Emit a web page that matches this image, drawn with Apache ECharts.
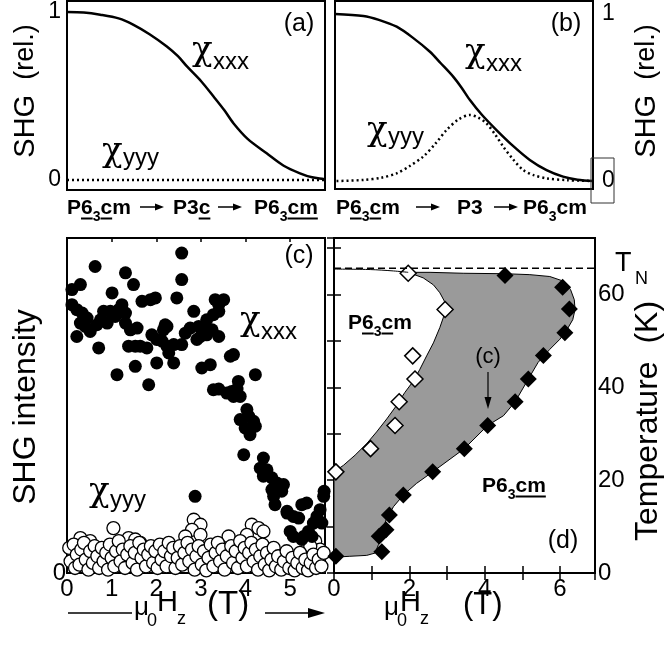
<!DOCTYPE html>
<html><head><meta charset="utf-8">
<script src="https://cdn.jsdelivr.net/npm/echarts@6/dist/echarts.min.js"></script>
<style>html,body{margin:0;padding:0;background:#fff}#c{width:665px;height:651px}</style>
</head><body><div id="c"></div><script>
// ---------- DATA ----------
// Panel (a): normalized field path
const pathA = [0, 0.065, 0.129, 0.2, 0.258, 0.32, 0.387, 0.43, 0.465, 0.52, 0.568, 0.61, 0.645, 0.7, 0.774, 0.84, 0.903, 0.95, 0.994, 1];
const xxxA  = [1.0, 0.997, 0.984, 0.962, 0.924, 0.868, 0.795, 0.737, 0.676, 0.588, 0.497, 0.415, 0.338, 0.245, 0.159, 0.085, 0.040, 0.016, 0.006, 0.004];
const yyyA  = [0, 0, 0, 0, 0, 0, 0, 0, 0, 0, 0, 0, 0, 0, 0, 0, 0, 0, 0, 0];
// Panel (b)
const pathBx = [0, 0.11, 0.17, 0.239, 0.3, 0.368, 0.41, 0.458, 0.49, 0.523, 0.57, 0.626, 0.69, 0.755, 0.82, 0.884, 0.94, 1];
const xxxB   = [1.0, 0.988, 0.965, 0.924, 0.86, 0.774, 0.705, 0.625, 0.56, 0.485, 0.395, 0.305, 0.21, 0.126, 0.065, 0.026, 0.008, 0.0];
const pathBy = [0.006, 0.11, 0.18, 0.239, 0.29, 0.342, 0.39, 0.432, 0.48, 0.523, 0.555, 0.587, 0.62, 0.652, 0.69, 0.729, 0.77, 0.819, 0.9, 1];
const yyyB   = [0.0, 0.006, 0.02, 0.046, 0.09, 0.146, 0.225, 0.305, 0.37, 0.395, 0.38, 0.345, 0.28, 0.206, 0.13, 0.066, 0.035, 0.016, 0.005, 0.0];
// Panel (c): SHG intensity vs field (arb. units 0-100)
const xxxC = [
[0.11,84.6],[0.30,86.1],[0.63,91.5],[0.11,80.1],[0.22,78.6],[0.34,77.6],[0.45,76.1],[0.30,74.6],[0.41,73.6],[0.52,72.1],
[0.67,74.1],[0.75,75.6],[0.90,74.6],[0.97,78.1],[1.08,76.6],[1.16,78.6],[1.23,80.1],[1.31,77.6],[0.22,70.6],[0.71,67.2],
[0.82,78.1],[1.01,83.6],[1.31,89.6],[1.49,86.1],[1.12,59.2],[1.38,67.7],[1.53,67.7],[1.64,67.7],[1.79,67.2],[1.53,61.7],
[1.31,74.6],[1.42,72.6],[1.57,73.1],[1.68,81.1],[1.87,81.6],[1.98,82.1],[1.83,56.2],
[2.57,95.5],[2.57,87.6],[2.46,82.1],[1.90,71.1],[2.01,69.7],[2.16,72.6],[2.24,73.6],[2.13,69.2],[2.24,67.7],[2.28,65.7],
[2.39,68.2],[2.57,68.2],[2.01,62.7],[2.39,62.7],[2.65,71.6],[2.76,73.1],[2.84,78.1],[2.95,73.6],[3.06,72.6],[2.99,70.6],
[2.91,69.7],[3.13,75.6],[3.28,77.1],[3.40,78.1],[3.32,81.6],[3.51,81.6],[3.40,80.1],[3.02,61.2],[3.21,62.2],[3.40,70.6],
[3.25,72.6],[3.13,71.1],[2.20,74.1],
[3.66,64.7],[3.73,65.2],[4.22,59.2],[3.84,57.2],[3.28,54.7],[3.40,54.9],[3.58,53.7],[3.69,54.2],[3.81,54.9],[3.73,52.7],
[3.88,52.7],[4.03,48.8],[4.07,46.8],[4.18,45.3],[3.88,45.8],[3.99,43.3],[4.22,43.8],[4.10,41.3],[3.96,35.3],[4.40,34.3],
[4.33,31.3],[4.48,30.8],[4.40,28.9],[4.59,28.4],[4.70,26.9],[4.85,26.4],[4.59,24.9],[4.63,22.9],[4.81,24.4],[4.66,20.4],
[4.93,17.9],[5.07,16.9],[5.26,20.4],[5.37,20.9],[5.00,12.4],[5.07,10.9],[5.26,10.0],[5.41,12.4],[5.52,14.9],[5.60,16.9],
[5.67,18.9],[5.75,22.9],[5.76,24.4],[5.71,14.9],[5.30,10.9],[5.49,10.9],[4.93,18.4],[5.19,16.4],
[2.87,22.9]
];
const yyyC = [
[1.04,13.4],[2.84,15.9],[2.99,14.4],[2.80,12.9],[2.99,11.4],[2.65,10.9],[3.62,10.9],[4.14,14.4],[4.29,13.4],[4.40,12.4],
[4.03,11.4],[0.30,10.4],[0.52,9.5],[1.38,10.4],[1.53,10.0],[1.64,9.0],[5.56,9.5],[5.67,7.0],[5.45,8.0],
[0.05,7.5],[0.08,3.5],[0.15,8.5],[0.18,1.5],[0.22,5.5],[0.28,2.5],[0.32,7.0],[0.38,9.0],[0.42,4.0],[0.48,1.0],
[0.52,6.5],[0.58,3.0],[0.62,8.0],[0.68,5.0],[0.72,1.5],[0.78,7.5],[0.82,3.5],[0.88,6.0],[0.92,1.0],[0.96,8.5],[1.00,4.5],
[1.06,2.0],[1.10,6.5],[1.16,9.5],[1.20,3.5],[1.25,7.0],[1.30,1.5],[1.35,5.5],[1.42,8.0],[1.47,3.0],[1.52,6.0],
[1.57,1.0],[1.62,9.0],[1.67,4.5],[1.72,7.0],[1.77,2.0],[1.82,5.5],[1.88,8.0],[1.93,3.0],[1.98,6.5],
[2.03,1.5],[2.08,8.5],[2.12,4.0],[2.18,6.5],[2.23,2.0],[2.28,9.0],[2.33,5.0],[2.38,7.5],[2.43,1.5],[2.48,4.5],
[2.53,8.0],[2.58,2.5],[2.63,6.0],[2.70,9.0],[2.74,3.5],[2.80,7.0],[2.86,1.0],[2.90,5.0],[2.95,8.0],
[3.02,2.5],[3.07,6.5],[3.12,0.8],[3.17,4.5],[3.22,8.5],[3.28,2.0],[3.33,6.0],[3.38,9.0],[3.43,3.5],[3.48,7.0],
[3.53,1.0],[3.58,5.0],[3.68,8.0],[3.72,3.0],[3.78,6.5],[3.83,1.5],[3.88,9.5],[3.93,4.5],[3.98,7.5],
[4.03,2.0],[4.08,6.0],[4.13,9.0],[4.18,3.5],[4.23,7.0],[4.28,1.0],[4.33,5.0],[4.38,8.5],[4.43,2.5],[4.48,6.0],
[4.53,0.8],[4.58,4.0],[4.63,7.5],[4.68,2.0],[4.73,5.0],[4.80,1.0],[4.86,3.5],[4.92,6.5],[4.98,1.5],
[5.05,4.5],[5.10,0.8],[5.16,3.0],[5.22,6.0],[5.28,1.5],[5.34,4.0],[5.40,0.8],[5.46,3.0],[5.52,5.5],[5.58,1.5],
[5.64,4.0],[5.70,2.0],[5.75,6.0]
];
// Panel (d): phase diagram (field T, temperature K)
const openH   = [1.97, 2.95, 2.09, 2.15, 1.73, 1.62, 0.97, 0.05];
const openT   = [64.6, 56.8, 46.8, 41.8, 36.9, 31.8, 26.8, 21.8];
const filledH = [4.54, 6.07, 6.25, 6.13, 5.56, 5.16, 4.81, 4.08, 3.46, 2.62, 1.84, 1.47, 1.38, 1.20, 1.27, 0.05];
const filledT = [64.1, 61.6, 56.9, 51.8, 46.9, 41.8, 36.9, 31.8, 26.8, 21.8, 16.8, 12.5, 9.3, 7.9, 4.6, 3.6];
// boundary of white (upper-left) P6_3cm region, from top-left
const wbH = [0, 0.96, 1.58, 1.97, 2.37, 2.64, 2.81, 2.93, 2.95, 2.90, 2.81, 2.64, 2.46, 2.28, 2.11, 1.88, 1.66, 1.40, 1.13, 0.87, 0.56, 0.25, 0];
const wbT = [65.5, 65.4, 65.1, 64.8, 63.6, 62.1, 60.4, 58.6, 56.8, 55.0, 52.9, 49.6, 46.8, 43.9, 41.4, 38.9, 36.1, 33.2, 30.4, 27.9, 25.4, 23.2, 21.8];
// right/lower boundary of grey region, from (1.97, 64.8)
const rbH = [2.55, 3.43, 4.54, 5.20, 5.73, 6.09, 6.28, 6.38, 6.40, 6.34, 6.19, 6.00, 5.73, 5.42, 5.16, 4.81, 4.50, 4.08, 3.46, 2.62, 2.19, 1.84, 1.58, 1.40, 1.27, 1.18, 1.09, 0.87, 0.42, 0];
const rbT = [64.8, 64.6, 64.5, 64.3, 63.9, 62.9, 61.1, 58.9, 56.8, 54.6, 52.5, 50.4, 48.2, 45.4, 41.8, 36.9, 33.9, 31.8, 26.8, 21.8, 19.3, 16.8, 14.3, 11.8, 8.9, 6.1, 4.3, 3.8, 3.6, 3.4];
const TN = 65.7;
const xTicksC = [0, 1, 2, 3, 4, 5];
const yTicksD = [0, 20, 40, 60];

// ---------- helpers ----------
const zip = (a, b) => a.map((v, i) => [v, b[i]]);
const G = [];
const mctx = document.createElement('canvas').getContext('2d');
function fam(serif) { return serif ? 'DejaVu Serif' : 'Liberation Sans'; }
function mw(t, sz, b, serif) { mctx.font = (b ? 'bold ' : '') + sz + 'px "' + fam(serif) + '"'; return mctx.measureText(t).width; }
function T(x, base, t, sz, o) {
  o = o || {};
  const al = o.align || 'left';
  G.push({ type: 'text', x: x, y: base - 0.33 * sz, z: 100, silent: true,
    style: { text: t, fontSize: sz, fontWeight: o.b ? 'bold' : 'normal', fontFamily: fam(o.serif), fill: '#000',
      align: al, verticalAlign: 'middle', textAlign: al, textVerticalAlign: 'middle' } });
  return mw(t, sz, o.b, o.serif);
}
function L(x1, y1, x2, y2, w) {
  G.push({ type: 'line', z: 100, silent: true, shape: { x1: x1, y1: y1, x2: x2, y2: y2 }, style: { stroke: '#000', lineWidth: w || 1.5 } });
}
function arrowR(x1, x2, y, hl, hh, w) {
  L(x1, y, x2 - hl + 1, y, w);
  G.push({ type: 'polygon', z: 100, silent: true, shape: { points: [[x2 - hl, y - hh], [x2, y], [x2 - hl, y + hh]] }, style: { fill: '#000' } });
}
function group(x, base, toks) {
  let cx = x;
  toks.forEach(k => {
    const w = T(cx, base + (k.dy || 0), k.t, k.s, k);
    if (k.u) L(cx, base + 3.5, cx + w, base + 3.5, 2);
    cx += w;
  });
}
function phase(x, base, u6, uc, um) {
  group(x, base, [{ t: 'P', s: 21, b: 1 }, { t: '6', s: 21, b: 1, u: u6 }, { t: '3', s: 14, b: 1, dy: 7 },
    { t: 'c', s: 21, b: 1, u: uc }, { t: 'm', s: 21, b: 1, u: um }]);
}
function chi(x, base, sub, subBase) {
  T(x, base, 'χ', 34, { serif: 1 });
  T(x + 21, subBase, sub, 24);
}
function rot(x, y, text, rich) {
  G.push({ type: 'text', x: x, y: y, rotation: Math.PI / 2, z: 100, silent: true,
    style: { text: text, rich: rich, fill: '#000', align: 'center', verticalAlign: 'middle', textAlign: 'center', textVerticalAlign: 'middle', fontFamily: 'Liberation Sans' } });
}

// ---------- annotations ----------
T(299, 32, '(a)', 25, { align: 'center' });
T(566, 32, '(b)', 25, { align: 'center' });
T(299, 264, '(c)', 25, { align: 'center' });
T(563, 549, '(d)', 25, { align: 'center' });
// chi labels
chi(192, 62, 'xxx', 70);
chi(102, 163, 'yyy', 166);
chi(465, 64, 'xxx', 72);
chi(367, 142, 'yyy', 145);
chi(240, 332, 'xxx', 340);
chi(89, 503, 'yyy', 508);
// phase sequence labels
phase(67, 215, 1, 1, 0); arrowR(140, 164, 207, 9, 3.5, 1.5);
group(173, 215, [{ t: 'P3', s: 21, b: 1 }, { t: 'c', s: 21, b: 1, u: 1 }]); arrowR(218, 242, 207, 9, 3.5, 1.5);
group(254, 215, [{ t: 'P', s: 21, b: 1 }, { t: '6', s: 21, b: 1 }, { t: '3', s: 14, b: 1, dy: 7 }, { t: 'cm', s: 21, b: 1, u: 1 }]);
phase(336, 215, 1, 1, 0); arrowR(416, 440, 207, 9, 3.5, 1.5);
group(457, 215, [{ t: 'P3', s: 21, b: 1 }]); arrowR(494, 518, 207, 9, 3.5, 1.5);
phase(523, 215, 0, 0, 0);
// artifact box around right "0"
G.push({ type: 'rect', z: 99, silent: true, shape: { x: 591, y: 158, width: 23, height: 45 }, style: { fill: 'none', stroke: '#333', lineWidth: 1 } });
// panel d labels
phase(348, 330, 1, 1, 0);
group(482, 493, [{ t: 'P', s: 21, b: 1 }, { t: '6', s: 21, b: 1 }, { t: '3', s: 14, b: 1, dy: 7 }, { t: 'cm', s: 21, b: 1, u: 1 }]);
T(488, 364, '(c)', 22, { align: 'center' });
L(488, 372, 488, 400, 1.2);
G.push({ type: 'polygon', z: 100, silent: true, shape: { points: [[484.5, 397], [491.5, 397], [488, 409]] }, style: { fill: '#000' } });
T(615, 272, 'T', 27); T(635, 285, 'N', 18);
// x-axis titles
T(134, 616, 'μ', 26); T(147, 627, '0', 18); T(157, 613, 'H', 29); T(177, 625, 'z', 18); T(207, 616, '(T)', 33);
L(68, 613, 132, 613, 1.5); arrowR(265, 325, 613, 17, 5, 1.5);
T(384, 616, 'μ', 26); T(397, 627, '0', 18); T(400, 613, 'H', 29); T(420, 625, 'z', 18); T(463, 616, '(T)', 31);
// y-axis titles (rotated)
rot(26, 91, '{a|SHG}{b|  (rel.)}', { a: { fontSize: 29, fontFamily: 'Liberation Sans' }, b: { fontSize: 27, fontFamily: 'Liberation Sans' } });
rot(647, 91, '{a|SHG}{b|  (rel.)}', { a: { fontSize: 29, fontFamily: 'Liberation Sans' }, b: { fontSize: 27, fontFamily: 'Liberation Sans' } });
rot(26, 407, '{a|SHG intensity}', { a: { fontSize: 32, fontFamily: 'Liberation Sans' } });
rot(648, 421, '{a|Temperature  (K)}', { a: { fontSize: 32, fontFamily: 'Liberation Sans' } });

// ---------- chart ----------
const chart = echarts.init(document.getElementById('c'));
const grid = (l, t, w, h) => ({ left: l, top: t, width: w, height: h, show: true, borderColor: '#000', borderWidth: 2, backgroundColor: 'transparent', containLabel: false, outerBoundsMode: 'none' });
const noSplit = { show: false };
const lbl = (o) => Object.assign({ color: '#000', fontSize: 24, fontFamily: 'Liberation Sans' }, o);
const isInt = v => Math.abs(v - Math.round(v)) < 1e-6;

const option = {
  animation: false,
  backgroundColor: '#fff',
  grid: [grid(67, 1, 258, 189), grid(335, 1, 258, 188), grid(67, 238, 258, 335), grid(334, 238, 261, 335)],
  xAxis: [
    { gridIndex: 0, type: 'value', min: 0, max: 1, show: false },
    { gridIndex: 1, type: 'value', min: 0, max: 1, show: false },
    { gridIndex: 2, type: 'value', min: 0, max: 5.78, interval: 1, axisLine: { show: false }, splitLine: noSplit,
      axisTick: { inside: true, length: 10, lineStyle: { color: '#000', width: 1.5 } },
      axisLabel: lbl({ margin: 4, formatter: v => isInt(v) && xTicksC.indexOf(Math.round(v)) >= 0 ? String(Math.round(v)) : '' }) },
    { gridIndex: 2, type: 'value', position: 'top', min: 0, max: 5.78, interval: 1, axisLine: { show: false }, splitLine: noSplit,
      axisTick: { inside: true, length: 4, lineStyle: { color: '#000', width: 1.5 } }, axisLabel: { show: false } },
    { gridIndex: 3, type: 'value', min: 0, max: 6.93, interval: 1, axisLine: { show: false }, splitLine: noSplit,
      axisTick: { inside: true, length: 7, lineStyle: { color: '#000', width: 1.5 } },
      axisLabel: lbl({ margin: 4, formatter: v => isInt(v) && Math.round(v) % 2 === 0 ? String(Math.round(v)) : '' }) },
    { gridIndex: 3, type: 'value', position: 'top', min: 0, max: 6.93, interval: 1, axisLine: { show: false }, splitLine: noSplit,
      axisTick: { inside: true, length: 7, lineStyle: { color: '#000', width: 1.5 } }, axisLabel: { show: false } }
  ],
  yAxis: [
    { gridIndex: 0, type: 'value', min: -0.0595, max: 1.0655, axisLine: { show: false }, axisTick: { show: false }, splitLine: noSplit,
      axisLabel: lbl({ fontSize: 23, margin: 6, customValues: [0, 1], formatter: v => String(Math.round(v)) }) },
    { gridIndex: 1, type: 'value', position: 'right', min: -0.0479, max: 1.0778, axisLine: { show: false }, axisTick: { show: false }, splitLine: noSplit,
      axisLabel: lbl({ fontSize: 23, margin: 9, customValues: [0, 1], formatter: v => String(Math.round(v)) }) },
    { gridIndex: 2, type: 'value', min: 0, max: 100, axisLine: { show: false }, axisTick: { show: false }, splitLine: noSplit,
      axisLabel: lbl({ margin: 1, customValues: [0], formatter: v => String(Math.round(v)) }) },
    { gridIndex: 3, type: 'value', position: 'right', min: 0, max: 72.2, interval: 10, axisLine: { show: false }, splitLine: noSplit,
      axisTick: { inside: true, length: 7, lineStyle: { color: '#000', width: 1.5 } },
      axisLabel: lbl({ margin: 3, formatter: v => isInt(v) && yTicksD.indexOf(Math.round(v)) >= 0 ? String(Math.round(v)) : '' }) },
    { gridIndex: 3, type: 'value', position: 'left', min: 0, max: 72.2, interval: 10, axisLine: { show: false }, splitLine: noSplit,
      axisTick: { inside: true, length: 7, lineStyle: { color: '#000', width: 1.5 } }, axisLabel: { show: false } }
  ],
  series: [
    { type: 'line', xAxisIndex: 0, yAxisIndex: 0, data: zip(pathA, xxxA), smooth: 0.3, symbol: 'none', lineStyle: { color: '#000', width: 2.5 } },
    { type: 'line', xAxisIndex: 0, yAxisIndex: 0, data: zip(pathA, yyyA), symbol: 'none', lineStyle: { color: '#000', width: 2.5, type: [2, 3] } },
    { type: 'line', xAxisIndex: 1, yAxisIndex: 1, data: zip(pathBx, xxxB), smooth: 0.3, symbol: 'none', lineStyle: { color: '#000', width: 2.5 } },
    { type: 'line', xAxisIndex: 1, yAxisIndex: 1, data: zip(pathBy, yyyB), smooth: 0.3, symbol: 'none', lineStyle: { color: '#000', width: 2.5, type: [2, 3] } },
    { type: 'scatter', xAxisIndex: 2, yAxisIndex: 2, data: yyyC, symbol: 'circle', symbolSize: 13, clip: false,
      itemStyle: { color: '#fff', borderColor: '#000', borderWidth: 1.3, opacity: 1 } },
    { type: 'scatter', xAxisIndex: 2, yAxisIndex: 2, data: xxxC, symbol: 'circle', symbolSize: 13, clip: false,
      itemStyle: { color: '#000', opacity: 1 } },
    { type: 'custom', xAxisIndex: 4, yAxisIndex: 3, data: [[0, 0]], z: 1,
      renderItem: function (params, api) {
        const pts = [];
        for (let i = wbH.length - 1; i >= 3; i--) pts.push(api.coord([wbH[i], wbT[i]]));
        for (let i = 0; i < rbH.length; i++) pts.push(api.coord([rbH[i], rbT[i]]));
        return { type: 'polygon', shape: { points: pts }, style: { fill: '#9a9a9a', stroke: '#000', lineWidth: 1 } };
      } },
    { type: 'line', xAxisIndex: 4, yAxisIndex: 3, data: zip(wbH.slice(0, 4), wbT.slice(0, 4)), smooth: 0.3, symbol: 'none', lineStyle: { color: '#000', width: 1 } },
    { type: 'line', xAxisIndex: 4, yAxisIndex: 3, data: [[0, TN], [6.93, TN]], symbol: 'none', lineStyle: { color: '#000', width: 1.5, type: [7, 4] } },
    { type: 'scatter', xAxisIndex: 4, yAxisIndex: 3, data: zip(openH, openT), symbol: 'diamond', symbolSize: 16, clip: false,
      itemStyle: { color: '#fff', borderColor: '#000', borderWidth: 1.5, opacity: 1 } },
    { type: 'scatter', xAxisIndex: 4, yAxisIndex: 3, data: zip(filledH, filledT), symbol: 'diamond', symbolSize: 17, clip: false,
      itemStyle: { color: '#000', opacity: 1 } }
  ],
  graphic: { elements: G }
};
chart.setOption(option);
</script></body></html>
